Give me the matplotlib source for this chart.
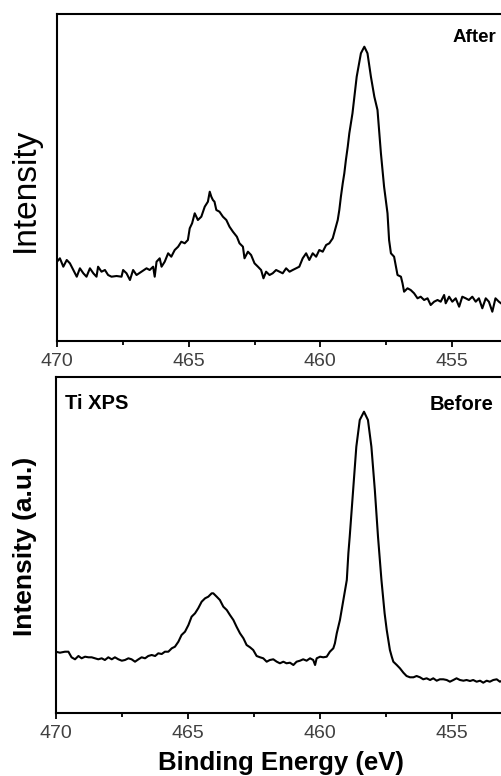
import matplotlib
matplotlib.use("Agg")
import matplotlib.pyplot as plt
from matplotlib.ticker import MultipleLocator

plt.rcParams['font.family'] = ['Liberation Sans', 'DejaVu Sans']

# Ti 2p spectrum after (top panel), binding energy in eV, intensity in a.u.
after_be = [470.00, 469.89, 469.76, 469.63, 469.51, 469.38, 469.25, 469.13, 469.00, 468.88,
            468.75, 468.62, 468.50, 468.44, 468.31, 468.18, 468.06, 467.93, 467.74, 467.55,
            467.49, 467.36, 467.23, 467.11, 466.98, 466.79, 466.60, 466.48, 466.35, 466.29,
            466.22, 466.10, 466.03, 465.91, 465.78, 465.66, 465.53, 465.40, 465.28, 465.15,
            465.03, 464.96, 464.87, 464.77, 464.65, 464.52, 464.39, 464.27, 464.20, 464.14,
            464.08, 464.02, 463.95, 463.83, 463.70, 463.57, 463.45, 463.32, 463.17, 463.07,
            462.94, 462.88, 462.75, 462.63, 462.50, 462.37, 462.25, 462.16, 462.06, 461.93,
            461.81, 461.68, 461.55, 461.43, 461.30, 461.17, 461.05, 460.92, 460.80, 460.67,
            460.54, 460.42, 460.29, 460.16, 460.04, 459.91, 459.78, 459.66, 459.53, 459.41,
            459.34, 459.28, 459.22, 459.15, 459.09, 459.03, 458.96, 458.90, 458.78, 458.62,
            458.46, 458.33, 458.21, 458.08, 457.95, 457.83, 457.70, 457.58, 457.45, 457.39,
            457.32, 457.20, 457.13, 457.07, 456.94, 456.88, 456.82, 456.69, 456.57, 456.44,
            456.31, 456.19, 456.06, 455.93, 455.81, 455.68, 455.55, 455.43, 455.30, 455.24,
            455.11, 454.99, 454.86, 454.73, 454.61, 454.48, 454.36, 454.23, 454.10, 453.98,
            453.85, 453.72, 453.60, 453.47, 453.35, 453.22, 453.14]
after_int = [79.3, 82.7, 74.3, 81.0, 77.7, 71.0, 64.3, 72.7, 67.7, 64.3,
             72.7, 67.7, 64.3, 74.3, 69.3, 71.0, 66.0, 64.3, 65.0, 64.3,
             71.0, 67.7, 61.0, 71.0, 66.0, 69.3, 72.7, 71.0, 74.3, 64.3,
             79.3, 82.7, 74.3, 79.3, 87.7, 84.3, 91.0, 94.3, 99.3, 97.7,
             101.0, 112.7, 117.7, 127.7, 121.0, 124.3, 134.3, 139.3, 149.3, 144.3,
             141.0, 139.3, 131.0, 129.3, 124.3, 121.0, 114.3, 109.3, 104.3, 97.7,
             94.3, 82.7, 89.3, 86.0, 77.7, 74.3, 71.0, 62.7, 69.3, 66.0,
             67.7, 71.0, 69.3, 67.7, 72.7, 69.3, 71.0, 72.7, 74.3, 82.7,
             87.7, 81.0, 87.7, 84.3, 91.0, 89.3, 96.0, 97.7, 102.7, 114.3,
             121.0, 131.0, 144.3, 157.7, 167.7, 181.0, 194.3, 207.7, 227.7, 264.3,
             287.7, 294.3, 287.7, 264.3, 244.3, 231.0, 187.7, 154.3, 127.7, 101.0,
             87.7, 84.3, 74.3, 66.0, 64.3, 57.7, 49.3, 52.7, 51.0, 47.7,
             42.7, 44.3, 41.0, 42.7, 36.0, 39.3, 41.0, 39.3, 46.0, 37.7,
             44.3, 39.3, 42.7, 34.3, 44.3, 42.7, 41.0, 44.3, 39.3, 42.7,
             32.7, 42.7, 39.3, 29.3, 42.7, 39.3, 37.7]

# Ti 2p spectrum before (bottom panel)
before_be = [470.00, 469.84, 469.65, 469.52, 469.40, 469.27, 469.14, 469.02, 468.89, 468.76,
             468.64, 468.51, 468.39, 468.26, 468.14, 468.01, 467.88, 467.76, 467.63, 467.50,
             467.38, 467.25, 467.13, 467.00, 466.87, 466.75, 466.62, 466.50, 466.37, 466.24,
             466.12, 465.99, 465.87, 465.74, 465.61, 465.49, 465.36, 465.24, 465.11, 464.98,
             464.86, 464.73, 464.61, 464.48, 464.35, 464.23, 464.10, 464.04, 463.91, 463.79,
             463.66, 463.53, 463.41, 463.28, 463.16, 463.03, 462.90, 462.78, 462.65, 462.53,
             462.40, 462.27, 462.15, 462.02, 461.90, 461.77, 461.64, 461.52, 461.39, 461.27,
             461.14, 461.01, 460.89, 460.76, 460.64, 460.51, 460.38, 460.26, 460.19, 460.13,
             460.00, 459.88, 459.75, 459.63, 459.50, 459.44, 459.37, 459.25, 459.12, 458.99,
             458.93, 458.88, 458.75, 458.63, 458.50, 458.34, 458.19, 458.06, 457.93, 457.81,
             457.68, 457.56, 457.48, 457.42, 457.36, 457.29, 457.23, 457.10, 456.98, 456.85,
             456.73, 456.60, 456.47, 456.35, 456.22, 456.10, 455.97, 455.84, 455.72, 455.59,
             455.47, 455.34, 455.21, 455.09, 454.96, 454.84, 454.71, 454.58, 454.46, 454.33,
             454.21, 454.08, 453.95, 453.83, 453.70, 453.58, 453.45, 453.32, 453.20, 453.12]
before_int = [61.3, 60.3, 61.3, 61.3, 55.7, 53.7, 57.0, 54.7, 56.3, 55.7,
              55.7, 54.7, 53.7, 54.7, 53.0, 55.7, 53.7, 55.7, 53.7, 52.3,
              53.0, 54.7, 53.7, 51.3, 53.7, 55.7, 54.7, 57.0, 58.0, 57.0,
              59.7, 59.0, 61.3, 61.3, 64.7, 66.3, 71.3, 78.0, 81.3, 88.0,
              96.3, 99.7, 104.7, 111.3, 114.7, 116.3, 119.7, 119.7, 116.3, 113.0,
              106.3, 103.0, 98.0, 93.0, 86.3, 79.7, 74.7, 68.0, 65.7, 63.0,
              57.0, 55.7, 54.7, 51.3, 53.0, 53.7, 51.3, 49.7, 51.3, 49.7,
              50.3, 48.0, 51.3, 52.3, 53.7, 52.3, 54.7, 53.0, 48.0, 54.7,
              56.3, 55.7, 56.3, 61.3, 64.7, 69.7, 79.7, 93.0, 113.0, 133.0,
              160.0, 176.3, 223.0, 266.3, 293.0, 301.3, 293.0, 266.3, 223.0, 176.3,
              133.0, 99.7, 83.0, 73.0, 63.0, 56.3, 51.3, 48.0, 44.7, 40.3,
              37.0, 35.7, 35.7, 37.0, 35.7, 33.7, 34.7, 33.0, 34.7, 32.3,
              33.7, 33.7, 33.0, 31.3, 33.0, 34.7, 33.0, 32.3, 33.0, 32.0,
              33.0, 31.3, 32.3, 30.3, 32.3, 31.3, 33.0, 33.7, 31.3, 32.3]

xticks = [470, 465, 460, 455]

W, H = 502, 776
fig = plt.figure(figsize=(W / 100, H / 100), dpi=100)

ax1 = fig.add_axes([57 / W, 1 - 341 / H, 526.7 / W, 327 / H])
ax2 = fig.add_axes([55.7 / W, 1 - 713 / H, 528.8 / W, 336 / H])


def style(ax, ymax):
    ax.set_xlim(470, 450)
    ax.set_ylim(0, ymax)
    ax.set_xticks(xticks)
    ax.xaxis.set_minor_locator(MultipleLocator(2.5))
    ax.set_yticks([])
    for s in ax.spines.values():
        s.set_linewidth(1.5)
    ax.tick_params(axis='x', which='major', direction='out', length=4, width=1.3,
                   pad=5, labelsize=14, labelcolor='#404040')
    ax.tick_params(axis='x', which='minor', direction='out', length=3, width=1.3)


ax1.plot(after_be, after_int, color='black', lw=1.5)
style(ax1, 327)
ax1.set_ylabel('Intensity', fontsize=24)
ax1.yaxis.set_label_coords(-0.03, 0.462)
ax1.text(453 / W, 1 - 37 / H, 'After', transform=fig.transFigure, fontsize=13.5,
         fontweight='bold', va='center', ha='left')

ax2.plot(before_be, before_int, color='black', lw=1.5)
style(ax2, 336)
ax2.set_ylabel('Intensity (a.u.)', fontsize=19, fontweight='bold')
ax2.yaxis.set_label_coords(-0.035, 0.497)
ax2.set_xlabel('Binding Energy (eV)', fontsize=18.5, fontweight='bold')
ax2.xaxis.set_label_coords(0.426, -0.112)
fig.text(65 / W, 1 - 403 / H, 'Ti XPS', fontsize=14.5, fontweight='bold', va='center', ha='left')
fig.text(430 / W, 1 - 404 / H, 'Before', fontsize=14.5, fontweight='bold', va='center', ha='left')

fig.savefig('out.png', dpi=100)
